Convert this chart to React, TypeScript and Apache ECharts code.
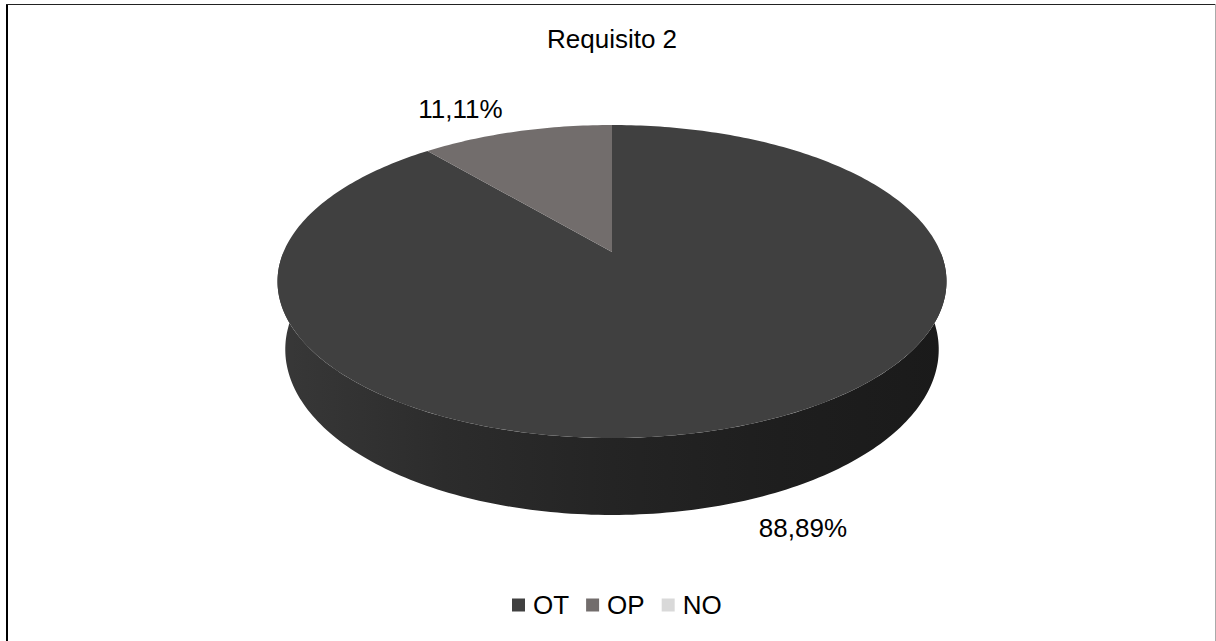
import React, { useEffect, useRef } from "react";
import * as echarts from "echarts";

// ---- data ----
const categories = ["OT", "OP", "NO"];
const values = [88.89, 11.11, 0];
const titleText = "Requisito 2";

// ---- styles ----
const topColors = ["#404040", "#726d6c", "#d9d9d9"];
const wallStops = [
  ["#383838", "#2c2c2c", "#242424", "#1e1e1e", "#1a1a1a"],
  ["#5a5655", "#4f4b4a", "#464241", "#3e3a39", "#383433"],
  ["#bdbdbd", "#b0b0b0", "#a6a6a6", "#9d9d9d", "#959595"],
];
const FONT = "'Liberation Sans', Arial, sans-serif";

// perspective projection parameters (layout)
const CX = 612;
const CY = 252;
const F = 1548;
const R = 0.2122;
const H = 0.0498;
const SIN_A = 0.4595;
const COS_A = 0.8882;

function proj(theta: number, bottom: boolean): [number, number] {
  const s = Math.sin(theta);
  const c = Math.cos(theta);
  const hh = bottom ? H : 0;
  const depth = 1 - R * COS_A * s + hh * SIN_A;
  return [CX + (F * R * c) / depth, CY + (F * (R * s * SIN_A + hh * COS_A)) / depth];
}

function arcPoints(t1: number, t2: number, bottom: boolean): [number, number][] {
  const pts: [number, number][] = [];
  const n = Math.max(2, Math.ceil((Math.abs(t2 - t1) / (2 * Math.PI)) * 360));
  for (let i = 0; i <= n; i++) pts.push(proj(t1 + ((t2 - t1) * i) / n, bottom));
  return pts;
}

const total = values.reduce((a, b) => a + b, 0);
const starts: number[] = [];
{
  let acc = 0;
  for (const v of values) {
    starts.push(acc);
    acc += v;
  }
}

function fmt(v: number) {
  return v.toFixed(2).replace(".", ",") + "%";
}

function makeRender(idx: number) {
  return (params: any, api: any) => {
    const v = api.value(0) as number;
    if (!v) return { type: "group", children: [] };
    const t1 = -Math.PI / 2 + (2 * Math.PI * starts[idx]) / total;
    const t2 = -Math.PI / 2 + (2 * Math.PI * (starts[idx] + v)) / total;
    const children: any[] = [];
    // front wall: visible for theta in [0, PI] (mod 2PI)
    for (let k = -1; k <= 1; k++) {
      const lo = Math.max(t1, k * 2 * Math.PI);
      const hi = Math.min(t2, k * 2 * Math.PI + Math.PI);
      if (hi > lo) {
        const topPts = arcPoints(lo, hi, false);
        const botPts = arcPoints(lo, hi, true).reverse();
        const stops = wallStops[idx];
        children.push({
          type: "polygon",
          shape: { points: topPts.concat(botPts) },
          style: {
            fill: new echarts.graphic.LinearGradient(
              0, 0, 1, 0,
              stops.map((c, i) => ({ offset: i / (stops.length - 1), color: c }))
            ),
          },
        });
      }
    }
    // top face
    children.push({
      type: "polygon",
      shape: { points: [[CX, CY] as [number, number]].concat(arcPoints(t1, t2, false)) },
      style: { fill: topColors[idx] },
    });
    // label
    const mid = (t1 + t2) / 2;
    const front = Math.sin(mid) > 0;
    const anchor = proj(mid, front);
    const dx = Math.cos(mid);
    children.push({
      type: "text",
      x: anchor[0] + (dx >= 0 ? 14 : -14),
      y: anchor[1] + (front ? 27 : -23),
      style: {
        text: fmt(v),
        fill: "#000",
        font: `26px ${FONT}`,
        align: dx >= 0 ? "left" : "right",
        verticalAlign: "middle",
      },
    });
    return { type: "group", children };
  };
}

export default function App() {
  const ref = useRef<HTMLDivElement>(null);
  useEffect(() => {
    if (!ref.current) return;
    const chart = echarts.init(ref.current, null, { renderer: "svg" });
    chart.setOption({
      animation: false,
      backgroundColor: "#ffffff",
      title: {
        text: titleText,
        left: 547,
        top: 26,
        padding: 0,
        textStyle: { fontFamily: FONT, fontSize: 26, fontWeight: "normal", color: "#000" },
      },
      legend: {
        left: 512,
        top: 592,
        padding: 0,
        icon: "rect",
        itemWidth: 13,
        itemHeight: 13,
        itemGap: 17,
        data: categories,
        textStyle: { fontFamily: FONT, fontSize: 26, color: "#000", padding: [0, 0, 0, 3] },
      },
      graphic: [
        { type: "line", shape: { x1: 7, y1: 4, x2: 7, y2: 641 }, style: { stroke: "#000", lineWidth: 2 } },
        { type: "line", shape: { x1: 6, y1: 4.5, x2: 1215, y2: 4.5 }, style: { stroke: "#222", lineWidth: 1 } },
        { type: "line", shape: { x1: 1215.5, y1: 4, x2: 1215.5, y2: 641 }, style: { stroke: "#aaa", lineWidth: 1 } },
      ],
      series: categories.map((name, i) => ({
        type: "custom",
        name,
        coordinateSystem: "none",
        itemStyle: { color: topColors[i] },
        renderItem: makeRender(i),
        data: [[values[i]]],
      })),
    });
    return () => chart.dispose();
  }, []);
  return (
    <div
      ref={ref}
      style={{ position: "fixed", left: 0, top: 0, width: 1216, height: 641 }}
    />
  );
}
